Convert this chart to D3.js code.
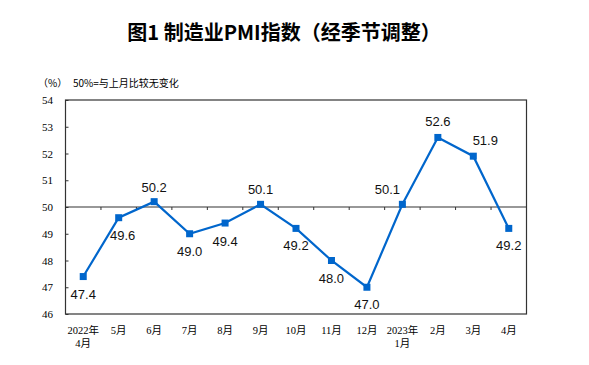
<!DOCTYPE html>
<html>
<head>
<meta charset="utf-8">
<script src="https://cdn.jsdelivr.net/npm/d3@7"></script>
<style>
  body { margin: 0; background: #fff; }
  svg { display: block; }
</style>
</head>
<body>
<script>
// data
var months = ["2022年\n4月", "5月", "6月", "7月", "8月", "9月", "10月", "11月", "12月", "2023年\n1月", "2月", "3月", "4月"];
var pmi = [47.4, 49.6, 50.2, 49.0, 49.4, 50.1, 49.2, 48.0, 47.0, 50.1, 52.6, 51.9, 49.2];
var yTicks = [46, 47, 48, 49, 50, 51, 52, 53, 54];

// where each value label sits relative to its point [dx, dy]
var labelOffset = [
  [0, 17], [4, 17], [0, -15], [0, 17], [0, 18], [0, -15], [0, 17],
  [0, 17], [0, 17], [-15, -15], [0, -16], [12, -16], [0, 17]
];

var width = 589, height = 365;
var plotLeft = 65.5, plotRight = 526.5, plotTop = 100, plotBottom = 314;

var svg = d3.select("body").append("svg")
  .attr("width", width)
  .attr("height", height);

// title
svg.append("text")
  .attr("x", 284)
  .attr("y", 40)
  .attr("text-anchor", "middle")
  .style("font-family", "'Noto Sans CJK SC', sans-serif")
  .style("font-size", "20px")
  .style("font-weight", "bold")
  .style("fill", "#000")
  .text("图1 制造业PMI指数（经季节调整）");

svg.append("text")
  .attr("x", 38)
  .attr("y", 87)
  .style("font-family", "'Noto Sans CJK SC', sans-serif")
  .style("font-size", "10px")
  .text("（%）");

svg.append("text")
  .attr("x", 73)
  .attr("y", 87)
  .style("font-family", "'Noto Sans CJK SC', sans-serif")
  .style("font-size", "10px")
  .text("50%=与上月比较无变化");

var x = d3.scaleBand()
  .domain(d3.range(months.length))
  .range([plotLeft, plotRight]);

var y = d3.scaleLinear()
  .domain([46, 54])
  .range([plotBottom, plotTop]);

// frame
svg.append("rect")
  .attr("x", plotLeft)
  .attr("y", plotTop)
  .attr("width", plotRight - plotLeft)
  .attr("height", plotBottom - plotTop)
  .style("fill", "none")
  .style("stroke", "#333")
  .style("stroke-width", 1.2);

// y axis ticks (inside) and labels
var yAxis = d3.axisRight(y)
  .tickValues(yTicks)
  .tickSize(3)
  .tickFormat("");
svg.append("g")
  .attr("transform", "translate(" + plotLeft + ",0)")
  .call(yAxis)
  .call(function(g) {
    g.select(".domain").remove();
    g.selectAll("line").style("stroke", "#333");
  });

svg.append("g")
  .selectAll("text")
  .data(yTicks)
  .enter()
  .append("text")
  .attr("x", 53)
  .attr("y", function(d) { return y(d) + 4; })
  .attr("text-anchor", "end")
  .style("font-family", "'Liberation Serif', serif")
  .style("font-size", "11px")
  .text(function(d) { return d; });

// 50 reference line with band ticks
svg.append("line")
  .attr("x1", plotLeft)
  .attr("x2", plotRight)
  .attr("y1", y(50))
  .attr("y2", y(50))
  .style("stroke", "#333")
  .style("stroke-width", 1.2);

svg.append("g")
  .selectAll("line")
  .data(d3.range(1, months.length))
  .enter()
  .append("line")
  .attr("x1", function(d) { return x(d); })
  .attr("x2", function(d) { return x(d); })
  .attr("y1", y(50))
  .attr("y2", y(50) + 3)
  .style("stroke", "#333");

// x labels
var xl = svg.append("g")
  .selectAll("text")
  .data(months)
  .enter()
  .append("text")
  .attr("x", function(d, i) { return x(i) + x.bandwidth() / 2; })
  .attr("y", 334)
  .attr("text-anchor", "middle")
  .style("font-family", "'Liberation Serif', 'Noto Sans CJK SC', serif")
  .style("font-size", "10.5px");

xl.each(function(d) {
  var parts = d.split("\n");
  var t = d3.select(this);
  parts.forEach(function(p, j) {
    t.append("tspan")
      .attr("x", t.attr("x"))
      .attr("dy", j === 0 ? 0 : 13)
      .text(p);
  });
});

// line
var cx = function(d, i) { return x(i) + x.bandwidth() / 2; };

svg.append("path")
  .datum(pmi)
  .attr("d", d3.line().x(cx).y(function(d) { return y(d); }))
  .style("fill", "none")
  .style("stroke", "#0066cc")
  .style("stroke-width", 2.2);

svg.append("g")
  .selectAll("rect")
  .data(pmi)
  .enter()
  .append("rect")
  .attr("x", function(d, i) { return cx(d, i) - 3.5; })
  .attr("y", function(d) { return y(d) - 3.5; })
  .attr("width", 7)
  .attr("height", 7)
  .style("fill", "#0066cc");

// value labels
svg.append("g")
  .selectAll("text")
  .data(pmi)
  .enter()
  .append("text")
  .attr("x", function(d, i) { return cx(d, i) + labelOffset[i][0]; })
  .attr("y", function(d, i) { return y(d) + labelOffset[i][1] + 5; })
  .attr("text-anchor", "middle")
  .style("font-family", "'Liberation Sans', Arial, sans-serif")
  .style("font-size", "13px")
  .style("fill", "#111")
  .text(function(d) { return d.toFixed(1); });
</script>
</body>
</html>
